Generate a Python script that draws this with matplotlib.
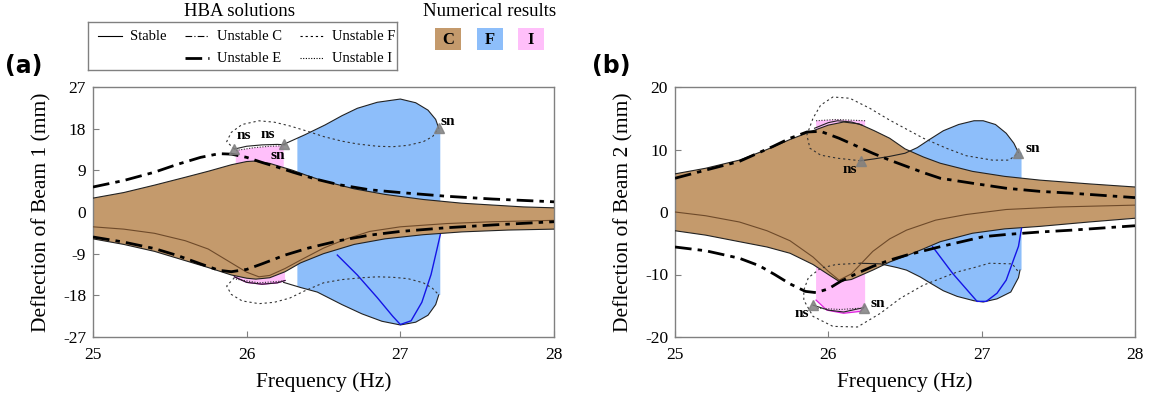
import numpy as np
import matplotlib
matplotlib.use("Agg")
import matplotlib.pyplot as plt
from matplotlib.patches import Rectangle
from matplotlib.lines import Line2D

plt.rcParams['font.family'] = ['Liberation Serif', 'DejaVu Serif']
plt.rcParams['axes.unicode_minus'] = False

W, H = 1157, 395

# ---------------- panel (a) data ----------------
a_cu_f = [25.0, 25.2, 25.4, 25.6, 25.75, 25.9, 26.0, 26.05, 26.15, 26.3, 26.4, 26.5, 26.7, 26.9, 27.15, 27.4, 27.6, 27.8, 28.0]
a_cu_v = [3.0, 4.2, 5.8, 7.5, 8.8, 10.2, 10.9, 11.0, 10.5, 9.0, 7.8, 6.7, 5.0, 3.8, 2.7, 1.9, 1.5, 1.1, 0.9]
a_cl_f = [25.0, 25.2, 25.4, 25.6, 25.75, 25.9, 26.0, 26.06, 26.15, 26.25, 26.35, 26.5, 26.7, 26.9, 27.15, 27.4, 27.7, 28.0]
a_cl_v = [-5.8, -7.0, -8.5, -10.5, -12.0, -13.6, -14.3, -14.5, -14.2, -12.9, -11.0, -9.0, -7.0, -5.8, -4.9, -4.3, -3.9, -3.7]
a_mid_f = [25.0, 25.2, 25.4, 25.6, 25.75, 25.9, 26.0, 26.08, 26.15, 26.25, 26.35, 26.5, 26.65, 26.8, 27.0, 27.3, 27.6, 28.0]
a_mid_v = [-3.2, -3.7, -4.6, -6.2, -8.0, -11.0, -13.0, -14.0, -13.7, -12.2, -10.4, -7.8, -5.8, -4.2, -3.2, -2.5, -2.1, -1.8]
a_eu_f = [25.0, 25.2, 25.4, 25.55, 25.7, 25.82, 25.9, 26.0, 26.1, 26.2, 26.3, 26.45, 26.6, 26.8, 27.0, 27.3, 27.6, 28.0]
a_eu_v = [5.4, 6.8, 8.6, 10.3, 11.8, 12.6, 12.5, 11.8, 10.7, 9.7, 8.6, 7.1, 5.9, 4.8, 4.2, 3.4, 2.8, 2.2]
a_el_f = [25.0, 25.2, 25.4, 25.55, 25.7, 25.82, 25.9, 26.0, 26.1, 26.25, 26.4, 26.6, 26.8, 27.0, 27.3, 27.6, 28.0]
a_el_v = [-5.4, -6.5, -7.9, -9.4, -11.2, -12.6, -12.9, -12.4, -11.2, -9.3, -7.8, -6.2, -5.0, -4.2, -3.4, -2.8, -2.1]
a_fu_f = [26.24, 26.38, 26.51, 26.62, 26.72, 26.85, 27.0, 27.1, 27.18, 27.23, 27.25]
a_fu_v = [14.6, 16.7, 18.8, 20.8, 22.4, 23.7, 24.4, 23.6, 22.0, 20.0, 18.1]
a_fl_f = [26.24, 26.35, 26.46, 26.62, 26.75, 26.88, 27.0, 27.1, 27.18, 27.23, 27.25]
a_fl_v = [-15.2, -16.3, -17.3, -20.0, -22.0, -23.6, -24.4, -23.8, -22.3, -20.0, -17.9]
a_iu_f = [25.92, 26.0, 26.1, 26.2, 26.25]
a_iu_v = [13.6, 14.2, 14.5, 14.6, 14.5]
a_il_f = [25.92, 26.0, 26.1, 26.2, 26.25]
a_il_v = [-14.0, -15.2, -15.6, -15.3, -14.8]
a_iud_f = [25.93, 26.05, 26.15, 26.24]
a_iud_v = [13.3, 13.9, 14.2, 14.3]
a_ild_f = [25.93, 26.08, 26.24]
a_ild_v = [-14.5, -15.3, -14.9]
a_fud_f = [25.92, 25.87, 25.9, 25.97, 26.08, 26.18, 26.28, 26.4, 26.5, 26.62, 26.72, 26.85, 26.95, 27.05, 27.15, 27.21, 27.25]
a_fud_v = [13.6, 15.2, 17.2, 18.9, 19.7, 19.4, 18.6, 17.4, 16.3, 15.3, 14.7, 14.2, 14.1, 14.4, 15.2, 16.3, 18.1]
a_fld_f = [25.92, 25.87, 25.9, 25.97, 26.08, 26.18, 26.28, 26.38, 26.5, 26.62, 26.75, 26.85, 26.95, 27.05, 27.15, 27.21, 27.25]
a_fld_v = [-14.2, -16.0, -17.8, -19.2, -19.8, -19.5, -18.6, -17.0, -15.3, -14.6, -14.2, -14.0, -14.1, -14.4, -15.3, -16.5, -17.9]
a_bl_f = [26.59, 26.72, 26.85, 26.95, 27.0, 27.07, 27.14, 27.2, 27.24, 27.26]
a_bl_v = [-9.3, -13.6, -18.5, -22.5, -24.3, -23.5, -19.5, -13.5, -7.8, -4.9]
a_mk_f = [25.92, 26.24, 27.25]
a_mk_v = [13.6, 14.6, 18.1]
a_lab = [("ns", 25.98, 16.6), ("ns", 26.14, 16.8), ("sn", 26.2, 12.3), ("sn", 27.31, 19.6)]

# ---------------- panel (b) data ----------------
b_cu_f = [25.0, 25.2, 25.42, 25.6, 25.75, 25.9, 26.0, 26.1, 26.2, 26.3, 26.4, 26.5, 26.62, 26.73, 26.94, 27.15, 27.38, 27.7, 28.0]
b_cu_v = [6.1, 7.0, 8.3, 10.0, 11.6, 13.0, 13.9, 14.4, 14.1, 13.0, 11.8, 10.1, 8.8, 7.8, 6.5, 5.7, 5.1, 4.5, 4.0]
b_cl_f = [25.0, 25.2, 25.42, 25.6, 25.75, 25.9, 26.0, 26.07, 26.15, 26.29, 26.4, 26.51, 26.62, 26.73, 26.94, 27.15, 27.38, 27.7, 28.0]
b_cl_v = [-3.0, -3.7, -4.75, -5.6, -6.6, -8.4, -10.0, -11.1, -10.8, -9.3, -8.0, -7.0, -5.9, -4.75, -3.4, -2.7, -2.3, -1.6, -1.0]
b_mid_f = [25.0, 25.2, 25.42, 25.6, 25.75, 25.9, 26.0, 26.07, 26.15, 26.29, 26.4, 26.51, 26.7, 26.9, 27.16, 27.5, 28.0]
b_mid_v = [0.0, -0.6, -1.6, -3.0, -4.6, -7.2, -9.5, -10.9, -9.9, -6.3, -4.3, -2.9, -1.3, -0.4, 0.4, 0.8, 1.1]
b_eu_f = [25.0, 25.2, 25.42, 25.64, 25.75, 25.86, 25.95, 26.07, 26.18, 26.29, 26.4, 26.51, 26.62, 26.73, 26.94, 27.16, 27.38, 27.59, 28.0]
b_eu_v = [5.4, 6.7, 8.1, 10.5, 11.8, 12.8, 12.9, 11.8, 10.6, 9.4, 8.3, 7.3, 6.3, 5.4, 4.6, 3.8, 3.3, 3.0, 2.3]
b_el_f = [25.0, 25.2, 25.42, 25.55, 25.65, 25.75, 25.85, 25.92, 26.0, 26.08, 26.18, 26.29, 26.4, 26.51, 26.73, 27.01, 27.16, 27.38, 27.59, 28.0]
b_el_v = [-5.6, -6.2, -7.4, -8.6, -10.0, -11.5, -12.7, -12.9, -12.3, -11.1, -9.9, -8.7, -7.7, -6.9, -5.55, -3.95, -3.6, -3.2, -2.9, -2.2]
b_fu_f = [26.21, 26.3, 26.4, 26.5, 26.58, 26.66, 26.75, 26.85, 26.95, 27.01, 27.09, 27.16, 27.21, 27.24]
b_fu_v = [8.2, 8.5, 8.9, 9.4, 10.3, 11.6, 13.0, 14.0, 14.6, 14.6, 14.0, 12.6, 11.0, 9.5]
b_fl_f = [26.21, 26.34, 26.45, 26.51, 26.6, 26.66, 26.75, 26.84, 26.95, 27.01, 27.1, 27.19, 27.24, 27.25]
b_fl_v = [-8.2, -8.3, -8.9, -9.3, -10.4, -11.3, -12.6, -13.5, -14.2, -14.4, -13.9, -12.8, -10.5, -9.3]
b_iu_f = [25.91, 26.0, 26.06, 26.15, 26.22]
b_iu_v = [13.4, 14.3, 14.6, 14.4, 13.9]
b_il_f = [25.9, 26.0, 26.1, 26.23]
b_il_v = [-14.9, -15.7, -16.0, -15.3]
b_iud_f = [25.92, 26.05, 26.24]
b_iud_v = [14.6, 14.8, 14.6]
b_ild_f = [25.93, 26.08, 26.2]
b_ild_v = [-15.4, -15.6, -15.4]
b_pk_f = [25.92, 25.99, 26.1, 26.21, 26.24]
b_pk_v = [-14.1, -15.7, -16.2, -15.9, -15.0]
b_fud_f = [26.21, 26.06, 25.95, 25.88, 25.86, 25.9, 25.95, 26.03, 26.14, 26.27, 26.4, 26.62, 26.77, 26.9, 27.07, 27.18, 27.24]
b_fud_v = [8.2, 8.6, 9.1, 10.2, 12.3, 15.0, 17.1, 18.4, 18.2, 16.6, 14.7, 11.8, 10.2, 9.0, 8.3, 8.3, 9.5]
b_fld_f = [26.21, 26.05, 25.95, 25.87, 25.84, 25.84, 25.9, 26.03, 26.19, 26.34, 26.47, 26.62, 26.84, 26.95, 27.05, 27.2, 27.24]
b_fld_v = [-8.2, -8.4, -9.0, -10.5, -12.5, -14.1, -16.7, -18.3, -18.4, -16.2, -13.8, -11.7, -9.6, -8.9, -8.2, -8.3, -9.6]
b_bl_f = [26.68, 26.81, 26.97, 27.03, 27.1, 27.16, 27.21, 27.24, 27.26]
b_bl_v = [-5.55, -9.8, -14.3, -14.3, -13.0, -10.9, -7.5, -5.5, -2.6]
b_mk_f = [26.21, 27.24, 25.9, 26.23]
b_mk_v = [8.2, 9.5, -14.9, -15.3]
b_lab = [("ns", 26.14, 6.8), ("sn", 27.33, 10.2), ("ns", 25.83, -16.2), ("sn", 26.32, -14.6)]

x_ticks = [25, 26, 27, 28]
a_yticks = [-27, -18, -9, 0, 9, 18, 27]
b_yticks = [-20, -10, 0, 10, 20]

BROWN = '#C49A6C'
BLUE = '#8DBEFA'
PINK = '#FFBFFA'
MID = '#6E4A2A'
GRAY = '#808080'

DASH_E = (0, (6.0, 2.2, 1.6, 2.2))
DASH_C = (0, (6, 2, 1, 2))
DASH_F = (0, (2.0, 2.6))
DOT_I = (0, (1.0, 1.4))


def clip(f, v, lo, hi):
    f = np.asarray(f, float); v = np.asarray(v, float)
    m = (f > lo) & (f < hi)
    ff = np.concatenate([[lo], f[m], [hi]])
    vv = np.concatenate([[np.interp(lo, f, v)], v[m], [np.interp(hi, f, v)]])
    return ff, vv


def poly(ax, fu, vu, fl, vl, **kw):
    xs = np.concatenate([np.asarray(fu), np.asarray(fl)[::-1]])
    ys = np.concatenate([np.asarray(vu), np.asarray(vl)[::-1]])
    ax.fill(xs, ys, **kw)


def panel(ax, d, ylim, yticks, ylabel):
    fu, vu = clip(d['fu_f'], d['fu_v'], 26.33, 27.26)
    fl, vl = clip(d['fl_f'], d['fl_v'], 26.33, 27.26)
    poly(ax, fu, vu, fl, vl, color=BLUE, lw=0, zorder=1)
    poly(ax, d['iud_f'], d['iud_v'], d['pk_f'], d['pk_v'], color=PINK, lw=0, zorder=1)
    poly(ax, d['cu_f'], d['cu_v'], d['cl_f'], d['cl_v'], color=BROWN, lw=0, zorder=2)
    ax.plot(d['pk_f'], d['pk_v'], color='#E020E0', lw=0.9, zorder=2.5)
    for f, v in [('cu_f', 'cu_v'), ('cl_f', 'cl_v'), ('fu_f', 'fu_v'), ('fl_f', 'fl_v'),
                 ('iu_f', 'iu_v'), ('il_f', 'il_v')]:
        ax.plot(d[f], d[v], color='#222222', lw=0.8, zorder=3)
    ax.plot(d['mid_f'], d['mid_v'], color=MID, lw=0.8, zorder=3)
    ax.plot(d['bl_f'], d['bl_v'], color='#1414E6', lw=1.0, zorder=3)
    ax.plot(d['eu_f'], d['eu_v'], color='black', lw=2.0, ls=DASH_E, zorder=4)
    ax.plot(d['el_f'], d['el_v'], color='black', lw=2.0, ls=DASH_E, zorder=4)
    ax.plot(d['fud_f'], d['fud_v'], color='#333333', lw=0.8, ls=DASH_F, zorder=4)
    ax.plot(d['fld_f'], d['fld_v'], color='#333333', lw=0.8, ls=DASH_F, zorder=4)
    ax.plot(d['iud_f'], d['iud_v'], color='#333333', lw=0.8, ls=DOT_I, zorder=4)
    ax.plot(d['ild_f'], d['ild_v'], color='#333333', lw=0.8, ls=DOT_I, zorder=4)
    ax.plot(d['mk_f'], d['mk_v'], ls='none', marker='^', ms=7, color=GRAY, alpha=0.85, zorder=5)
    for t, x, y in d['lab']:
        ax.text(x, y, t, ha='center', va='center', fontsize=11, fontweight='bold', zorder=6)
    ax.set_xlim(25, 28)
    ax.set_ylim(*ylim)
    ax.set_xticks(x_ticks)
    ax.set_xticklabels([str(t) for t in x_ticks])
    ax.set_yticks(yticks)
    ax.set_yticklabels([str(t) for t in yticks])
    ax.tick_params(direction='in', length=4, color=GRAY, labelsize=12.5)
    ax.tick_params(axis='x', pad=7)
    ax.tick_params(axis='y', pad=5)
    for s in ax.spines.values():
        s.set_color(GRAY)
        s.set_linewidth(1.0)
    ax.set_xlabel('Frequency (Hz)', fontsize=15.5, labelpad=7)
    ax.set_ylabel(ylabel, fontsize=15.5, labelpad=8)


def pack(prefix):
    g = globals()
    keys = ['cu_f', 'cu_v', 'cl_f', 'cl_v', 'mid_f', 'mid_v', 'eu_f', 'eu_v', 'el_f', 'el_v',
            'fu_f', 'fu_v', 'fl_f', 'fl_v', 'iu_f', 'iu_v', 'il_f', 'il_v', 'iud_f', 'iud_v',
            'ild_f', 'ild_v', 'fud_f', 'fud_v', 'fld_f', 'fld_v', 'bl_f', 'bl_v', 'mk_f', 'mk_v', 'lab']
    return {k: g[prefix + k] for k in keys}


da = pack('a_')
da['pk_f'] = a_il_f
da['pk_v'] = a_il_v
db = pack('b_')
db['pk_f'] = b_pk_f
db['pk_v'] = b_pk_v

fig = plt.figure(figsize=(W / 100, H / 100), dpi=100)
axa = fig.add_axes([93 / W, 1 - 337 / H, 461 / W, 250 / H])
axb = fig.add_axes([675 / W, 1 - 337 / H, 460 / W, 250 / H])
panel(axa, da, (-27, 27), a_yticks, 'Deflection of Beam 1 (mm)')
panel(axb, db, (-20, 20), b_yticks, 'Deflection of Beam 2 (mm)')

fig.text(5 / W, 1 - 66 / H, '(a)', fontsize=17, fontweight='bold', family='DejaVu Sans', va='center', ha='left')
fig.text(592 / W, 1 - 66 / H, '(b)', fontsize=17, fontweight='bold', family='DejaVu Sans', va='center', ha='left')

# ---- legend (HBA solutions) ----
lx0, ly0, lw_, lh_ = 88, 22, 309, 48
lax = fig.add_axes([lx0 / W, 1 - (ly0 + lh_) / H, lw_ / W, lh_ / H])
lax.set_xlim(0, lw_)
lax.set_ylim(lh_, 0)
lax.set_xticks([]); lax.set_yticks([])
for s in lax.spines.values():
    s.set_color(GRAY); s.set_linewidth(1.0)
leg_items = [
    ('Stable', '-', 0.8, 0, 0),
    ('Unstable C', DASH_C, 0.8, 1, 0),
    ('Unstable F', DASH_F, 0.8, 2, 0),
    ('Unstable E', DASH_E, 2.0, 1, 1),
    ('Unstable I', DOT_I, 0.8, 2, 1),
]
col_x = [10, 97, 212]
row_y = [14, 36]
for name, ls, lw, c, r in leg_items:
    x = col_x[c]; y = row_y[r]
    lax.add_line(Line2D([x, x + 24], [y, y], color='black', lw=lw, ls=ls))
    lax.text(x + 32, y, name, fontsize=10.5, va='center', ha='left')
fig.text(240 / W, 1 - 12 / H, 'HBA solutions', fontsize=13.5, ha='center', va='center')

# ---- numerical results ----
fig.text(490 / W, 1 - 12 / H, 'Numerical results', fontsize=13.5, ha='center', va='center')
nax = fig.add_axes([420 / W, 1 - 55 / H, 140 / W, 30 / H])
nax.set_xlim(0, 140); nax.set_ylim(30, 0); nax.axis('off')
for cx, col, t in [(28, BROWN, 'C'), (70, BLUE, 'F'), (111, PINK, 'I')]:
    nax.add_patch(Rectangle((cx - 13, 3), 26, 22, color=col, lw=0))
    nax.text(cx, 14.5, t, fontsize=12, fontweight='bold', ha='center', va='center')

fig.savefig('out.png', dpi=100)
